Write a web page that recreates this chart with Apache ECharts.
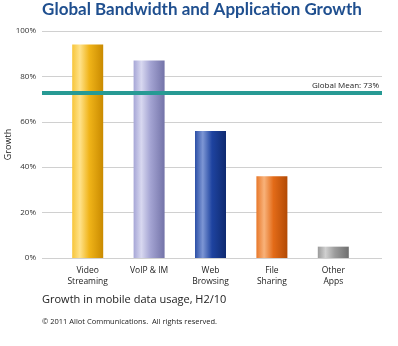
<!DOCTYPE html>
<html><head><meta charset="utf-8">
<script src="https://cdn.jsdelivr.net/npm/echarts@6/dist/echarts.min.js"></script>
<style>html,body{margin:0;padding:0;background:#fff}#c{width:398px;height:346px}</style>
</head><body><div id="c"></div>
<script>
const categories = ['Video\nStreaming', 'VoIP & IM', 'Web\nBrowsing', 'File\nSharing', 'Other\nApps'];
const growth = [94, 87, 56, 36, 5];
const globalMean = 73;
const yTicks = [0, 20, 40, 60, 80, 100];

const palettes = [
  ['#f7c53a', '#ffe28a', '#f0b419', '#c98a00'],
  ['#a6a6d6', '#d8d8f0', '#a3a3d2', '#7373a8'],
  ['#2c4fa6', '#7d96d4', '#1e43a0', '#0f2a70'],
  ['#e8782a', '#f8b27a', '#e36b18', '#b24a05'],
  ['#9a9a9a', '#d0d0d0', '#9c9c9c', '#6e6e6e']
];
function grad(p) {
  return new echarts.graphic.LinearGradient(0, 0, 1, 0, [
    {offset: 0, color: p[0]}, {offset: 0.25, color: p[1]},
    {offset: 0.55, color: p[2]}, {offset: 1, color: p[3]}
  ]);
}
const font = 'Open Sans';
const chart = echarts.init(document.getElementById('c'), null, {renderer: 'canvas'});
chart.setOption({
  animation: false,
  title: [
    {text: 'Global Bandwidth and Application Growth', left: 202, textAlign: 'center', top: 1, padding: 0,
     textStyle: {fontFamily: 'Lato', fontWeight: 'bold', fontSize: 17, color: '#1f4f8f'}},
    {text: 'Growth in mobile data usage, H2/10', left: 42, top: 294, padding: 0,
     textStyle: {fontFamily: font, fontWeight: 'normal', fontSize: 11, color: '#222'}},
    {text: '© 2011 Allot Communications.  All rights reserved.', left: 42, top: 318, padding: 0,
     textStyle: {fontFamily: font, fontWeight: 'normal', fontSize: 7.5, color: '#222'}}
  ],
  grid: [
    {left: 42, right: 16, top: 31, bottom: 88, outerBoundsMode: 'none', containLabel: false},
    {left: 57, right: 34, top: 31, bottom: 88, outerBoundsMode: 'none', containLabel: false}
  ],
  xAxis: [
    {gridIndex: 0, type: 'value', min: 0, max: 1, show: false},
    {gridIndex: 1, type: 'category', data: categories,
     axisLine: {show: false}, axisTick: {show: false},
     axisLabel: {fontFamily: font, fontSize: 8.5, color: '#222', margin: 7, lineHeight: 11}}
  ],
  yAxis: [
    {gridIndex: 0, type: 'value', min: 0, max: 100, interval: 20,
     name: 'Growth', nameLocation: 'middle', nameGap: 29, nameRotate: 90, nameMoveOverlap: false,
     nameTextStyle: {fontFamily: font, fontSize: 9, color: '#222'},
     axisLine: {show: false}, axisTick: {show: false},
     axisLabel: {fontFamily: font, fontSize: 8, color: '#333', margin: 6,
       formatter: v => yTicks.includes(v) ? v + '%' : ''},
     splitLine: {lineStyle: {color: '#d0d0d0', width: 1}}},
    {gridIndex: 1, type: 'value', min: 0, max: 100, interval: 20, show: false,
     splitLine: {show: false}}
  ],
  series: [
    {type: 'line', xAxisIndex: 0, yAxisIndex: 0, data: [],
     markLine: {silent: true, symbol: 'none',
       data: [{yAxis: globalMean}],
       lineStyle: {color: '#279a94', width: 4, type: 'solid'},
       label: {position: 'insideEndTop', formatter: 'Global Mean: ' + globalMean + '%',
         fontFamily: font, fontSize: 8, color: '#222', distance: 3}}},
    {type: 'bar', xAxisIndex: 1, yAxisIndex: 1, barWidth: 31, z: 3,
     data: growth.map((v, i) => ({value: v, itemStyle: {color: grad(palettes[i])}}))}
  ]
});
</script></body></html>
